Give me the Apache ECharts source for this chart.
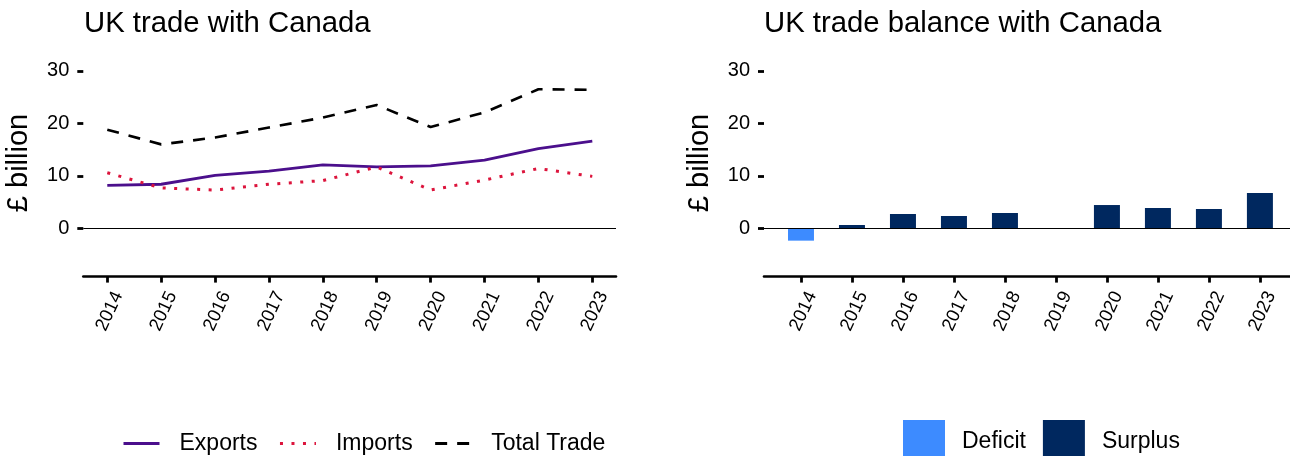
<!DOCTYPE html>
<html><head><meta charset="utf-8">
<script src="https://cdn.jsdelivr.net/npm/echarts@6/dist/echarts.min.js"></script>
<style>html,body{margin:0;padding:0;background:#fff}#c{width:1290px;height:456px}</style>
</head><body><div id="c"></div>
<script>
// ---- data ----
const years = [2014, 2015, 2016, 2017, 2018, 2019, 2020, 2021, 2022, 2023];
const exportsData = [8.2, 8.4, 10.1, 10.9, 12.1, 11.7, 11.9, 13.0, 15.2, 16.6];
const importsData = [10.6, 7.7, 7.3, 8.4, 9.1, 11.7, 7.3, 9.2, 11.4, 9.9];
const totalData = [18.8, 16.0, 17.3, 19.2, 21.1, 23.5, 19.3, 22.1, 26.5, 26.4];
const balanceData = [-2.35, 0.63, 2.73, 2.35, 2.92, 0, 4.44, 3.87, 3.68, 6.73];
const yTicks = [0, 10, 20, 30];
const titles = ['UK trade with Canada', 'UK trade balance with Canada'];
const yName = '£ billion';

// ---- chart ----
const FONT = '"Liberation Sans", Arial, sans-serif';
const chart = echarts.init(document.getElementById('c'), null, {renderer: 'canvas'});
const pair = arr => years.map((y, i) => [y, arr[i]]);
const deficit = years.map((y, i) => [y, balanceData[i]]).filter(p => p[1] < 0);
const surplus = years.map((y, i) => [y, balanceData[i]]).filter(p => p[1] >= 0);

const GTOP = 49.4, GH = 227.2, YMIN = -9.2, YMAX = 34.1;
const grids = [
  {left: 83.3, top: GTOP, width: 532.7, height: GH, min: 2013.555, max: 2023.44, shift: 0.204},
  {left: 764, top: GTOP, width: 526, height: GH, min: 2013.275, max: 2023.59, shift: 0.216}
];

const xAxes = [];
grids.forEach((g, gi) => {
  xAxes.push({
    gridIndex: gi, type: 'value', min: g.min, max: g.max, position: 'bottom',
    axisLine: {show: true, onZero: false, lineStyle: {color: '#000', width: 2.6}},
    axisTick: {show: true, customValues: years, length: 6, lineStyle: {color: '#000', width: 2.8}},
    axisLabel: {show: false}, splitLine: {show: false}
  });
  xAxes.push({
    gridIndex: gi, type: 'value', min: g.min - g.shift, max: g.max - g.shift, position: 'bottom',
    axisLine: {show: false, onZero: false}, axisTick: {show: false}, splitLine: {show: false},
    axisLabel: {show: true, customValues: years, rotate: 65, margin: 16, fontSize: 18.5,
      color: '#000', fontFamily: FONT, formatter: v => String(v)}
  });
});
const yAxes = grids.map((g, gi) => ({
  gridIndex: gi, type: 'value', min: YMIN, max: YMAX,
  axisLine: {show: false, onZero: false},
  axisTick: {show: true, customValues: yTicks, length: 6, lineStyle: {color: '#000', width: 2.8}},
  axisLabel: {customValues: yTicks, margin: 14, fontSize: 20, color: '#000', fontFamily: FONT},
  splitLine: {show: false},
  name: yName, nameLocation: 'middle', nameRotate: 90, nameGap: 50,
  nameTextStyle: {fontSize: 29, color: '#000', fontFamily: FONT}
}));

const zeroLine = {
  silent: true, symbol: 'none', label: {show: false}, animation: false,
  lineStyle: {color: '#000', width: 1.2, type: 'solid'},
  data: [{yAxis: 0}]
};

const option = {
  animation: false,
  backgroundColor: '#fff',
  textStyle: {fontFamily: FONT},
  title: titles.map((t, i) => ({
    text: t, left: i === 0 ? 84 : 764, top: 9, padding: 0,
    textStyle: {fontSize: 29.3, fontWeight: 'normal', color: '#000', fontFamily: FONT}
  })),
  grid: grids.map(g => ({left: g.left, top: g.top, width: g.width, height: g.height})),
  xAxis: xAxes,
  yAxis: yAxes,
  legend: [
    {data: ['Exports', 'Imports', 'Total Trade'], left: 122, top: 432, padding: 0,
     itemWidth: 36, itemHeight: 14, itemGap: 21,
     itemStyle: {opacity: 0, color: 'rgba(0,0,0,0)', borderWidth: 0},
     lineStyle: {width: 3},
     textStyle: {fontSize: 23, color: '#000', fontFamily: FONT, padding: [0, 0, 0, 15]}},
    {data: ['Deficit', 'Surplus'], left: 903, top: 420, padding: 0,
     itemWidth: 42, itemHeight: 43, icon: 'rect', itemGap: 17,
     textStyle: {fontSize: 23, color: '#000', fontFamily: FONT, padding: [0, 0, 0, 12]}}
  ],
  series: [
    {name: 'Exports', type: 'line', xAxisIndex: 0, yAxisIndex: 0, data: pair(exportsData),
     symbol: 'none', color: '#4b0f8c', lineStyle: {color: '#4b0f8c', width: 2.8}, markLine: zeroLine},
    {name: 'Imports', type: 'line', xAxisIndex: 0, yAxisIndex: 0, data: pair(importsData),
     symbol: 'none', color: '#dc143c', lineStyle: {color: '#dc143c', width: 3, type: [3, 8.5]}},
    {name: 'Total Trade', type: 'line', xAxisIndex: 0, yAxisIndex: 0, data: pair(totalData),
     symbol: 'none', color: '#000', lineStyle: {color: '#000', width: 2.6, type: [12, 10]}},
    {name: 'Deficit', type: 'bar', xAxisIndex: 2, yAxisIndex: 1, data: deficit, barWidth: 26,
     barGap: '-100%', color: '#3d8bff', itemStyle: {color: '#3d8bff'}},
    {name: 'Surplus', type: 'bar', xAxisIndex: 2, yAxisIndex: 1, data: surplus, barWidth: 26,
     barGap: '-100%', color: '#00285f', itemStyle: {color: '#00285f'}, markLine: zeroLine}
  ]
};
chart.setOption(option);
</script>
</body></html>
